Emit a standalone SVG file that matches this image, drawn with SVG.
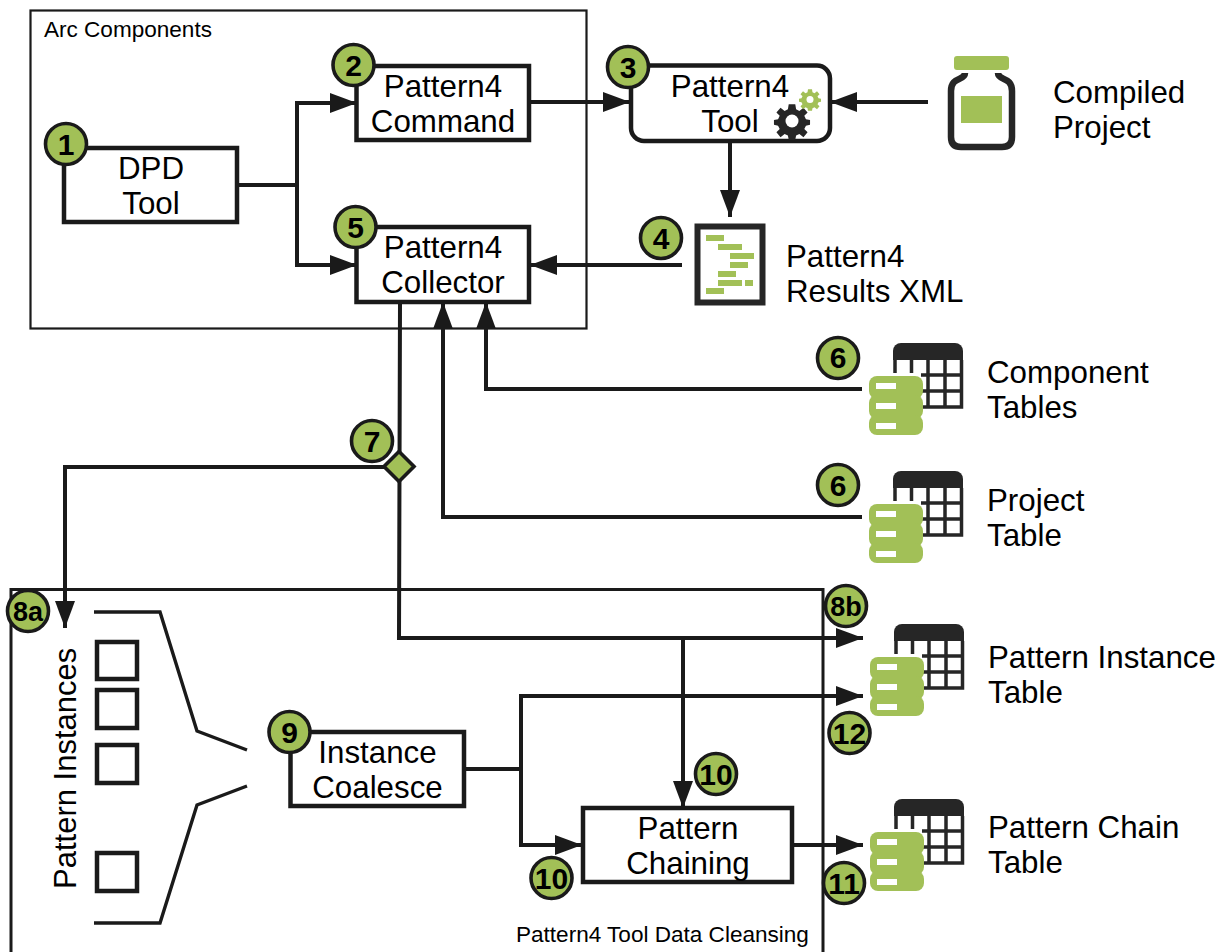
<svg xmlns="http://www.w3.org/2000/svg" width="1224" height="952" viewBox="0 0 1224 952">
<style>
text{font-family:"Liberation Sans",Arial,sans-serif;fill:#000}
.l{font-size:31.3px}
.m{text-anchor:middle}
.s{font-size:22.55px}
.box{fill:#fff;stroke:#1a1a1a;stroke-width:4.5}
.frame{fill:none;stroke:#1a1a1a;stroke-width:2.2}
.c{fill:none;stroke:#1a1a1a;stroke-width:4}
.cir{fill:#a2c057;stroke:#1a1a1a;stroke-width:3.6}
.n{font-size:30px;font-weight:bold;text-anchor:middle}
.g{fill:#a2c057}
.d{fill:#262626}
</style>
<defs>
<marker id="a" markerUnits="userSpaceOnUse" markerWidth="30" markerHeight="20" refX="27" refY="10" orient="auto"><path d="M0 0L27 10L0 20z" fill="#1a1a1a"/></marker>
<g id="db">
<path class="d" d="M0 8a8 8 0 0 1 8-8h54a8 8 0 0 1 8 8v9H0z"/>
<path d="M2 17V64H68.500V17M18.500 17V64M35 17V64M52 17V64M2 32H68.500M2 48H68.500" fill="none" stroke="#262626" stroke-width="3.500"/>
<path fill="#fff" d="M-26 30h54v64h-54z"/>
<rect class="g" x="-24" y="33" width="54" height="23" rx="8"/>
<rect class="g" x="-24" y="52" width="54" height="24" rx="8"/>
<rect class="g" x="-24" y="72" width="54" height="20" rx="8"/>
<path fill="#fff" d="M-17 40h20v6h-20zM-17 60h20v6h-20zM-17 80h20v6h-20z"/>
</g>
<path id="gear" d="M-4-19H4L5-13 9-11 14-15 19-9 15-5 17-1 22 0V6L17 7 15 11 19 15 14 21 9 17 5 19 4 24H-4L-5 19-9 17-14 21-19 15-15 11-17 7-22 6V0L-17-1-15-5-19-9-14-15-9-11-5-13z" transform="translate(0 -2.500)"/>
</defs>

<g id="frames">
<rect class="frame" x="30.500" y="10.500" width="556" height="318"/>
<path class="frame" style="stroke-width:3" d="M11 952V589.500H823V952"/>
<text x="44" y="37" class="s">Arc Components</text>
<text x="516" y="942" class="s">Pattern4 Tool Data Cleansing</text>
</g>

<g id="connectors">
<path class="c" d="M238 185H297V103H357" marker-end="url(#a)"/>
<path class="c" d="M297 185V265H357" marker-end="url(#a)"/>
<path class="c" d="M529 102H630" marker-end="url(#a)"/>
<path class="c" d="M928 102H830" marker-end="url(#a)"/>
<path class="c" d="M730 142V217" marker-end="url(#a)"/>
<path class="c" d="M682 265H530" marker-end="url(#a)"/>
<path class="c" d="M862 389H486V302" marker-end="url(#a)"/>
<path class="c" d="M862 517H443V302" marker-end="url(#a)"/>
<path class="c" d="M400 302L399 638H863" marker-end="url(#a)"/>
<path class="c" d="M386 467H65V628" marker-end="url(#a)"/>
<path class="c" d="M683 638V808" marker-end="url(#a)"/>
<path class="c" d="M465 769H521V696H863" marker-end="url(#a)"/>
<path class="c" d="M521 769V845H582" marker-end="url(#a)"/>
<path class="c" d="M793 845H863" marker-end="url(#a)"/>
<path class="c" style="stroke-width:3.400" d="M94 612H160L197 731L247 750M94 923H160L197 805L247 786"/>
</g>

<g id="n1"><rect class="box" x="64" y="148" width="173" height="74"/><text class="l m" x="151" y="179">DPD</text><text class="l m" x="151" y="214">Tool</text><circle class="cir" cx="66" cy="144" r="20.500"/><text class="n" x="66" y="155">1</text></g>
<g id="n2"><rect class="box" x="356.500" y="66" width="172.500" height="74"/><text class="l m" x="443" y="97">Pattern4</text><text class="l m" x="443" y="132">Command</text><circle class="cir" cx="353.500" cy="65" r="20.500"/><text class="n" x="353.500" y="76">2</text></g>
<g id="n5"><rect class="box" x="356.500" y="227" width="172.500" height="75"/><text class="l m" x="443" y="258">Pattern4</text><text class="l m" x="443" y="293">Collector</text><circle class="cir" cx="355.500" cy="227" r="20.500"/><text class="n" x="355.500" y="238">5</text></g>
<g id="n3"><rect class="box" x="631" y="65.500" width="199" height="75.500" rx="13"/><text class="l m" x="730" y="97">Pattern4</text><text class="l m" x="730" y="132">Tool</text><use href="#gear" transform="translate(792 122) scale(.82)" fill="#262626"/><use href="#gear" transform="translate(810 100) scale(.5)" fill="#a2c057"/><circle cx="792" cy="121" r="6.500" fill="#fff"/><circle cx="810" cy="99.500" r="3.500" fill="#fff"/><circle class="cir" cx="628" cy="67" r="20.500"/><text class="n" x="628" y="78">3</text></g>
<g id="jar"><rect class="g" x="954" y="56" width="55" height="14" rx="3"/><path d="M965 73c0 8-14 3-14 18v46q0 10 10 10h41q10 0 10-10V91c0-15-14-10-14-18" fill="none" stroke="#262626" stroke-width="6.500"/><rect class="g" x="961" y="96" width="41" height="27"/><text class="l" x="1053" y="103">Compiled</text><text class="l" x="1053" y="138">Project</text></g>
<g id="n4"><rect x="697.500" y="226.500" width="65" height="76" fill="#fff" stroke="#262626" stroke-width="6"/><path class="g" d="M706 235h18v6h-18zM718 244h24v6h-24zM730 253h24v6h-24zM730 262h18v6h-18zM718 271h18v6h-18zM718 280h24v6h-24zM745 280h8v6h-8zM706 288h18v6h-18z"/><circle class="cir" cx="661" cy="238" r="20.500"/><text class="n" x="661" y="249">4</text><text class="l" x="786" y="267">Pattern4</text><text class="l" x="786" y="302">Results XML</text></g>
<g id="n6a"><use href="#db" x="893" y="343"/><circle class="cir" cx="838" cy="358" r="20.500"/><text class="n" x="838" y="368">6</text><text class="l" x="987" y="383">Component</text><text class="l" x="987" y="418">Tables</text></g>
<g id="n6b"><use href="#db" x="893" y="471"/><circle class="cir" cx="838" cy="485" r="20.500"/><text class="n" x="838" y="496">6</text><text class="l" x="987" y="511">Project</text><text class="l" x="987" y="546">Table</text></g>
<g id="n7"><path d="M399 451.500L414 466.500L399 481.500L384 466.500z" fill="#a2c057" stroke="#1a1a1a" stroke-width="3.600"/><circle class="cir" cx="372" cy="441" r="20.500"/><text class="n" x="372" y="452">7</text></g>
<g id="n8a"><circle class="cir" cx="28" cy="611" r="20.500"/><text class="n" x="28" y="621" style="font-size:27px">8a</text></g>
<g id="instances"><g fill="#fff" stroke="#1a1a1a" stroke-width="4.500"><rect x="97" y="642" width="40" height="37"/><rect x="97" y="690" width="40" height="38"/><rect x="97" y="745" width="40" height="38"/><rect x="97" y="853" width="40" height="38"/></g><text class="l" style="font-size:31px" transform="translate(76 889) rotate(-90)">Pattern Instances</text></g>
<g id="n8b"><use href="#db" x="894" y="624"/><circle class="cir" cx="846" cy="606" r="20.500"/><text class="n" x="846" y="616" style="font-size:27px">8b</text><text class="l" x="988" y="668">Pattern Instance</text><text class="l" x="988" y="703">Table</text></g>
<g id="n12"><circle class="cir" cx="849.500" cy="733" r="20.500"/><text class="n" x="849.500" y="744">12</text></g>
<g id="n9"><rect class="box" x="290.500" y="732" width="173.500" height="74"/><text class="l m" x="377.500" y="763">Instance</text><text class="l m" x="377.500" y="798">Coalesce</text><circle class="cir" cx="289.500" cy="732" r="20.500"/><text class="n" x="289.500" y="743">9</text></g>
<g id="n10"><rect class="box" x="583" y="808" width="209" height="74"/><text class="l m" x="688" y="839">Pattern</text><text class="l m" x="688" y="874">Chaining</text><circle class="cir" cx="716" cy="774" r="20.500"/><text class="n" x="716" y="785">10</text><circle class="cir" cx="551.500" cy="878" r="20.500"/><text class="n" x="551.500" y="889">10</text></g>
<g id="n11"><use href="#db" x="894" y="799"/><circle class="cir" cx="844" cy="883" r="20.500"/><text class="n" x="844" y="894">11</text><text class="l" x="988" y="838">Pattern Chain</text><text class="l" x="988" y="873">Table</text></g>
</svg>
